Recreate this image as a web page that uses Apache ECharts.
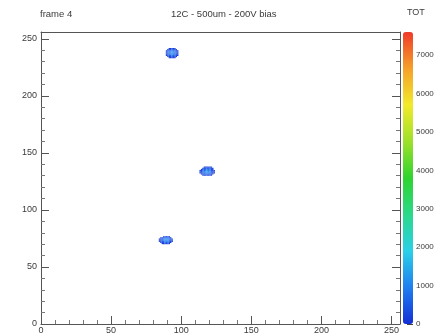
<!DOCTYPE html>
<html>
<head>
<meta charset="utf-8">
<script src="https://cdn.jsdelivr.net/npm/echarts@6/dist/echarts.min.js"></script>
<style>html,body{margin:0;padding:0;background:#fff}#c{width:441px;height:336px}</style>
</head>
<body>
<div id="c"></div>
<script>
// Axis ranges and ticks
var xRange = [0, 256];
var yRange = [0, 256];
var xTicks = [0, 50, 100, 150, 200, 250];
var yTicks = [0, 50, 100, 150, 200, 250];
var totRange = [0, 7600];
var totTicks = [0, 1000, 2000, 3000, 4000, 5000, 6000, 7000];

// Hit pixels: [x, y, TOT] — cluster near (93, 236)
var cluster1 = [
  [91,241,150],[92,241,220],[93,241,250],[94,241,200],[95,241,130],
  [90,240,180],[91,240,330],[92,240,450],[93,240,480],[94,240,400],[95,240,280],[96,240,150],
  [89,239,160],[90,239,380],[91,239,600],[92,239,750],[93,239,800],[94,239,700],[95,239,520],[96,239,300],[97,239,140],
  [89,238,220],[90,238,500],[91,238,760],[92,238,950],[93,238,1000],[94,238,900],[95,238,680],[96,238,420],[97,238,180],
  [89,237,240],[90,237,520],[91,237,800],[92,237,980],[93,237,1050],[94,237,940],[95,237,700],[96,237,430],[97,237,190],
  [89,236,200],[90,236,460],[91,236,700],[92,236,880],[93,236,920],[94,236,830],[95,236,620],[96,236,380],[97,236,160],
  [89,235,150],[90,235,330],[91,235,520],[92,235,640],[93,235,680],[94,235,600],[95,235,450],[96,235,280],[97,235,120],
  [90,234,180],[91,234,300],[92,234,380],[93,234,400],[94,234,350],[95,234,250],[96,234,140],
  [91,233,120],[92,233,180],[93,233,200],[94,233,170],[95,233,110]
];
// cluster near (119, 132)
var cluster2 = [
  [116,137,130],[117,137,190],[118,137,220],[119,137,230],[120,137,180],[121,137,120],
  [115,136,160],[116,136,300],[117,136,420],[118,136,480],[119,136,470],[120,136,380],[121,136,230],[122,136,120],
  [114,135,150],[115,135,320],[116,135,560],[117,135,760],[118,135,840],[119,135,820],[120,135,680],[121,135,440],[122,135,200],
  [113,134,120],[114,134,200],[115,134,500],[116,134,780],[117,134,950],[118,134,1020],[119,134,990],[120,134,830],[121,134,560],[122,134,250],[123,134,110],
  [113,133,130],[114,133,220],[115,133,540],[116,133,820],[117,133,1000],[118,133,1080],[119,133,1040],[120,133,860],[121,133,580],[122,133,260],[123,133,120],
  [113,132,110],[114,132,190],[115,132,480],[116,132,740],[117,132,900],[118,132,960],[119,132,930],[120,132,760],[121,132,500],[122,132,220],[123,132,100],
  [114,131,140],[115,131,320],[116,131,500],[117,131,620],[118,131,660],[119,131,630],[120,131,510],[121,131,330],[122,131,150],
  [115,130,150],[116,130,250],[117,130,310],[118,130,330],[119,130,300],[120,130,240],[121,130,140]
];
// cluster near (89, 71)
var cluster3 = [
  [87,76,140],[88,76,220],[89,76,250],[90,76,210],[91,76,130],
  [85,75,140],[86,75,320],[87,75,520],[88,75,620],[89,75,650],[90,75,580],[91,75,420],[92,75,200],
  [84,74,110],[85,74,210],[86,74,500],[87,74,780],[88,74,960],[89,74,1020],[90,74,920],[91,74,680],[92,74,330],[93,74,120],
  [84,73,120],[85,73,220],[86,73,520],[87,73,800],[88,73,1000],[89,73,1060],[90,73,960],[91,73,700],[92,73,350],[93,73,130],
  [84,72,100],[85,72,180],[86,72,440],[87,72,680],[88,72,840],[89,72,900],[90,72,810],[91,72,590],[92,72,280],[93,72,110],
  [85,71,130],[86,71,280],[87,71,450],[88,71,570],[89,71,600],[90,71,540],[91,71,380],[92,71,180],
  [86,70,110],[87,70,150],[88,70,240],[89,70,270],[90,70,230],[91,70,140]
];

var titleText = '12C - 500um - 200V bias';
var frameText = 'frame 4';
var zText = 'TOT';

var hits = cluster1.concat(cluster2, cluster3);
var textColor = '#3a3a3a';
var FONT = 'Liberation Sans';

var chart = echarts.init(document.getElementById('c'), null, {renderer: 'canvas'});

function tickAxis(extra) {
  return Object.assign({
    type: 'value',
    axisLine: {show: true, onZero: false, lineStyle: {color: '#555', width: 1}},
    axisTick: {show: true, inside: true, length: 8, lineStyle: {color: '#555'}},
    minorTick: {show: true, splitNumber: 5, length: 4, lineStyle: {color: '#777'}},
    splitLine: {show: false},
    axisLabel: {show: false}
  }, extra);
}

chart.setOption({
  animation: false,
  backgroundColor: '#fff',
  textStyle: {fontFamily: FONT},
  graphic: [
    {type: 'text', left: 40, top: 9, style: {text: frameText, font: '9.5px ' + FONT, fill: textColor}},
    {type: 'text', left: 171, top: 9, style: {text: titleText, font: '9.5px ' + FONT, fill: textColor}},
    {type: 'text', left: 407, top: 8, style: {text: zText, font: '9px ' + FONT, fill: textColor}}
  ],
  grid: [
    {left: 41, right: 41, top: 32, bottom: 12, containLabel: false},
    {left: 403, width: 10, top: 32, bottom: 12, containLabel: false}
  ],
  xAxis: [
    tickAxis({gridIndex: 0, position: 'bottom', min: xRange[0], max: xRange[1], interval: 50,
      axisLabel: {show: true, fontSize: 9, color: textColor, margin: 2, fontFamily: FONT,
        showMaxLabel: false, formatter: function (v) { return xTicks.indexOf(v) >= 0 ? String(v) : ''; }}}),
    tickAxis({gridIndex: 0, position: 'top', min: xRange[0], max: xRange[1], interval: 50,
      axisTick: {show: false}, minorTick: {show: false}}),
    {type: 'value', gridIndex: 1, min: 0, max: 1, show: false}
  ],
  yAxis: [
    tickAxis({gridIndex: 0, position: 'left', min: yRange[0], max: yRange[1], interval: 50,
      axisLabel: {show: true, fontSize: 9, color: textColor, margin: 4, fontFamily: FONT,
        showMaxLabel: false, formatter: function (v) { return yTicks.indexOf(v) >= 0 ? String(v) : ''; }}}),
    tickAxis({gridIndex: 0, position: 'right', min: yRange[0], max: yRange[1], interval: 50}),
    {type: 'value', gridIndex: 1, position: 'right', min: totRange[0], max: totRange[1], interval: 1000,
      axisLine: {show: false, onZero: false},
      axisTick: {show: true, inside: true, length: 6, lineStyle: {color: '#444'}},
      splitLine: {show: false},
      axisLabel: {show: true, fontSize: 8, color: textColor, margin: 3, fontFamily: FONT, showMaxLabel: false,
        formatter: function (v) { return totTicks.indexOf(v) >= 0 ? String(v) : ''; }}}
  ],
  visualMap: {
    type: 'continuous',
    seriesIndex: 0,
    dimension: 2,
    min: totRange[0],
    max: totRange[1],
    calculable: false,
    realtime: false,
    left: 403,
    top: 32,
    itemWidth: 10,
    itemHeight: 292,
    padding: 0,
    text: null,
    showLabel: false,
    hoverLink: false,
    inRange: {color: ['#1430d6', '#1f7ff0', '#2ad0e8', '#2bd98a', '#2fd42f', '#9ee02a', '#f2ea2a', '#f5a02a', '#f03a2a']}
  },
  series: [{
    type: 'custom',
    xAxisIndex: 0,
    yAxisIndex: 0,
    encode: {x: 0, y: 1},
    data: hits,
    renderItem: function (params, api) {
      var x = api.value(0), y = api.value(1);
      var p0 = api.coord([x, y + 1]);
      var p1 = api.coord([x + 1, y]);
      return {type: 'rect', shape: {x: p0[0], y: p0[1], width: p1[0] - p0[0], height: p1[1] - p0[1]},
        style: {fill: api.visual('color')}};
    }
  }]
});
</script>
</body>
</html>
